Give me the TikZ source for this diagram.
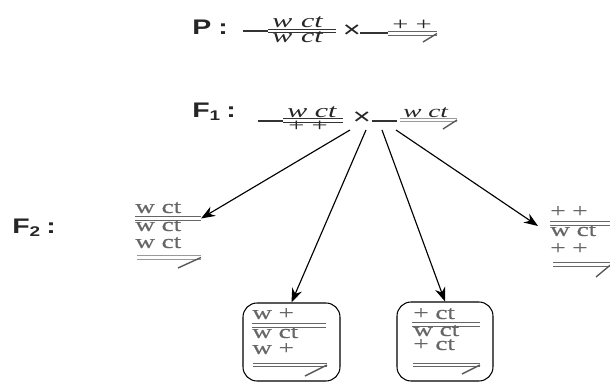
\documentclass[tikz,border=0pt]{standalone}
\usepackage{fontspec}
\setmainfont{Liberation Serif}[FakeStretch=1.55]
\newfontfamily\allelefont{Liberation Serif}[FakeStretch=1.4, FakeBold=0.4]
\newfontfamily\headfont{Liberation Sans}[FakeStretch=1.35]
\usetikzlibrary{arrows.meta,positioning}

\tikzset{
  allele/.style={inner sep=0pt, anchor=base west, text depth=0pt, text=black!60, font=\allelefont\fontsize{11}{13}\selectfont},
  parental/.style={inner sep=0pt, anchor=base west, text depth=0pt, text=black!85, font=\fontsize{11}{13}\selectfont\itshape},
  wildtype/.style={parental, font=\fontsize{10.5}{13}\selectfont},
  gen/.style={inner sep=0pt, anchor=west, text=black!85, font=\headfont\bfseries\fontsize{12}{14}\selectfont},
  crosssign/.style={inner sep=0pt, text=black!85, font=\headfont\fontsize{13}{14}\selectfont},
  chrom/.style={draw=black!60, double=white, double distance=1.3pt, line width=0.65pt},
  ychrom/.style={chrom, draw=black!40},
  hook/.style={draw=black!65, line width=0.8pt},
  stem/.style={draw=black!80, line width=0.7pt},
  pedigree/.style={draw, line width=0.65pt, -{Stealth[length=8pt,width=6pt]}},
  classbox/.style={draw, rounded corners=8pt, line width=0.6pt, inner sep=0pt}
}

\begin{document}
\begin{tikzpicture}[x=0.02cm, y=-0.02cm]
  \clip (0,0) rectangle (610,382);

  % generations
  \begin{scope}[every node/.style={gen}]
    \node (P) at (192,27) {P\hspace{4pt}:};
    \node (F1) at (192,112) {F\textsubscript{1}\hspace{3pt}:};
    \node (F2) at (12,228) {F\textsubscript{2}\hspace{3pt}:};
  \end{scope}

  % P cross
  \draw[stem] (243,31) -- (268,31);
  \draw[chrom, draw=black!80] (268,31) -- (336,31);
  \node[parental] (pmom-top) at (272,27.5) {w\hspace{0.45em}ct};
  \node[parental] (pmom-bot) at (272,43) {w\hspace{0.45em}ct};
  \node[crosssign] (cross0) at (352,31) {×};
  \draw[stem] (360,33) -- (388,33);
  \draw[chrom] (388,33.5) -- (437,33.5);
  \draw[hook] (437,33.5) -- (423,42);
  \node[wildtype] (pdad-top) at (392,31) {+ +};

  % F1 cross
  \draw[stem] (258,121) -- (283,121);
  \draw[chrom, draw=black!80] (283,120.5) -- (343,120.5);
  \node[parental] (fmom-top) at (287,117) {w ct};
  \node[wildtype] (fmom-bot) at (288,132) {+ +};
  \node[crosssign] (cross1) at (362,118) {×};
  \draw[stem] (372,121) -- (397,121);
  \draw[ychrom] (400,120) -- (457,120);
  \draw[hook] (457,120) -- (443,129);
  \node[parental, font=\fontsize{10}{12}\selectfont\itshape] (fdad-top) at (403,117) {w ct};

  \coordinate (s1) at (350,130);
  \coordinate (s2) at (366,130);
  \coordinate (s3) at (382,130);
  \coordinate (s4) at (396,130);

  % F2 classes
  \node[allele] (a1) at (135,213) {w ct};
  \draw[chrom] (135,218.5) -- (201,218.5) coordinate (f2a);
  \node[allele] (a2) at (135,231) {w ct};
  \node[allele] (a3) at (135,248) {w ct};
  \draw[ychrom, double distance=1.6pt] (137,257.5) -- (201,257.5);
  \draw[hook] (201,257.5) -- (178,268);

  \node[classbox, minimum width=1.94cm, minimum height=1.56cm] (box2) at (291.5,342) {};
  \node[allele] (b1) at (252,319) {w +};
  \draw[chrom] (252,325.5) -- (326,325.5);
  \node[allele] (b2) at (252,338) {w ct};
  \node[allele] (b3) at (252,354) {w +};
  \draw[chrom] (253,365) -- (327,365);
  \draw[hook] (327,365) -- (305,376);

  \node[classbox, minimum width=1.92cm, minimum height=1.58cm] (box3) at (445,341.5) {};
  \node[allele] (c1) at (413,319) {+ ct};
  \draw[chrom] (412,324.5) -- (480,324.5);
  \node[allele] (c2) at (413,336) {w ct};
  \node[allele] (c3) at (413,350) {+ ct};
  \draw[chrom] (413,365) -- (480,365);
  \draw[hook] (480,365) -- (462,374);

  \node[allele] (d1) at (550,217) {+ +};
  \draw[chrom] (550,223.5) -- (620,223.5);
  \coordinate (f2d) at (538,226);
  \node[allele] (d2) at (550,236) {w ct};
  \node[allele] (d3) at (550,254) {+ +};
  \draw[chrom] (553,264.5) -- (620,264.5);
  \draw[hook] (611,264.5) -- (596,277);

  \begin{scope}[every edge/.style={pedigree}]
    \path (s1) edge (f2a);
    \path (s2) edge (box2.north);
    \path (s3) edge (box3.north);
    \path (s4) edge (f2d);
  \end{scope}
\end{tikzpicture}
\end{document}
